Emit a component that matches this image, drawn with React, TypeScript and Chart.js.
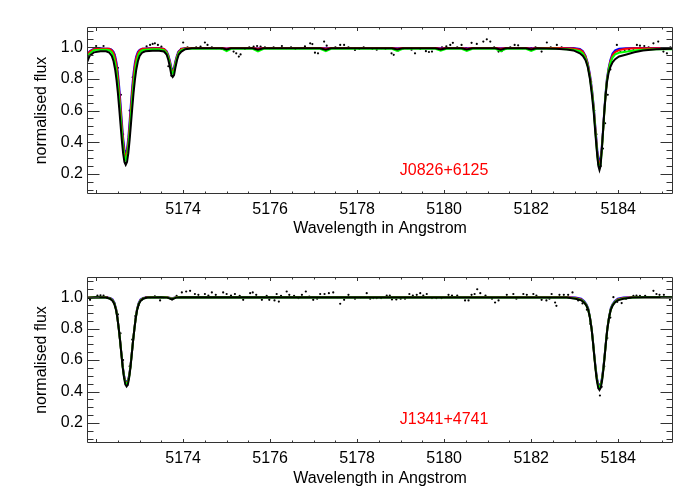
import React, { useEffect, useRef } from "react";
import { Chart, registerables } from "chart.js";

Chart.register(...registerables);

// ---- axis settings ----
const xMin = 5171.79;
const xMax = 5185.26;
const yMin = 0.073;
const yMax = 1.128;
const xTickValues = [5174, 5176, 5178, 5180, 5182, 5184];
const yTickValues = [0.2, 0.4, 0.6, 0.8, 1.0];
const xTitle = "Wavelength in Angstrom";
const yTitle = "normalised flux";

// ---- panel 1 : J0826+6125 ----
const p1Name = "J0826+6125";
const p1Wave = [
  5171.79, 5171.85, 5171.95, 5172.10, 5172.23, 5172.30, 5172.36, 5172.40, 5172.44, 5172.47,
  5172.50, 5172.53, 5172.56, 5172.59, 5172.62, 5172.65, 5172.68, 5172.71, 5172.74, 5172.77,
  5172.80, 5172.83, 5172.86, 5172.89, 5172.92, 5172.96, 5173.00, 5173.06, 5173.13, 5173.30,
  5173.45, 5173.56, 5173.62, 5173.66, 5173.70, 5173.73, 5173.76, 5173.79, 5173.82, 5173.86,
  5173.90, 5173.96, 5174.05, 5174.20, 5174.90, 5175.00, 5175.10, 5175.60, 5175.72, 5175.85,
  5177.15, 5177.28, 5177.40, 5178.80, 5178.92, 5179.05, 5179.80, 5179.92, 5180.05, 5180.40,
  5180.52, 5180.65, 5181.18, 5181.30, 5181.42, 5181.88, 5182.00, 5182.12, 5182.57, 5182.82,
  5182.97, 5183.12, 5183.19, 5183.25, 5183.30, 5183.35, 5183.40, 5183.44, 5183.48, 5183.52,
  5183.545, 5183.57, 5183.595, 5183.62, 5183.65, 5183.68, 5183.71, 5183.74, 5183.78, 5183.82,
  5183.87, 5183.93, 5184.02, 5184.17, 5184.37, 5184.57, 5184.87, 5185.26,
];
const p1Black = [
  0.905, 0.945, 0.968, 0.975, 0.975, 0.967, 0.945, 0.912, 0.854, 0.791,
  0.711, 0.616, 0.514, 0.414, 0.331, 0.275, 0.257, 0.275, 0.331, 0.414,
  0.514, 0.616, 0.711, 0.791, 0.854, 0.912, 0.945, 0.967, 0.975, 0.978,
  0.978, 0.973, 0.954, 0.92, 0.869, 0.824, 0.812, 0.824, 0.869, 0.92,
  0.954, 0.973, 0.988, 0.993, 0.993, 0.986, 0.993, 0.993, 0.984, 0.993,
  0.993, 0.985, 0.993, 0.993, 0.986, 0.993, 0.993, 0.986, 0.993, 0.993,
  0.986, 0.993, 0.993, 0.985, 0.993, 0.993, 0.986, 0.993, 0.99, 0.986,
  0.98, 0.962, 0.945, 0.918, 0.875, 0.80, 0.69, 0.58, 0.44, 0.31,
  0.25, 0.225, 0.25, 0.34, 0.46, 0.59, 0.69, 0.775, 0.84, 0.875,
  0.905, 0.925, 0.942, 0.953, 0.968, 0.98, 0.987, 0.99,
];
const p1Blue = [
  0.95, 0.975, 0.99, 0.993, 0.99, 0.99, 0.984, 0.971, 0.941, 0.901,
  0.838, 0.752, 0.647, 0.533, 0.429, 0.356, 0.33, 0.356, 0.429, 0.533,
  0.647, 0.752, 0.838, 0.901, 0.941, 0.971, 0.984, 0.99, 0.992, 0.995,
  0.995, 0.99, 0.975, 0.95, 0.91, 0.87, 0.857, 0.87, 0.91, 0.95,
  0.975, 0.99, 0.995, 0.996, 0.996, 0.993, 0.996, 0.996, 0.992, 0.996,
  0.996, 0.993, 0.996, 0.996, 0.993, 0.996, 0.996, 0.993, 0.996, 0.996,
  0.993, 0.996, 0.996, 0.993, 0.996, 0.996, 0.993, 0.996, 0.996, 0.995,
  0.995, 0.99, 0.975, 0.945, 0.90, 0.83, 0.73, 0.62, 0.48, 0.35,
  0.30, 0.288, 0.30, 0.36, 0.47, 0.60, 0.71, 0.80, 0.87, 0.92,
  0.96, 0.98, 0.99, 0.993, 0.995, 0.995, 0.995, 0.995,
];
const p1Red = [
  0.945, 0.972, 0.988, 0.99, 0.99, 0.99, 0.98, 0.963, 0.927, 0.880,
  0.812, 0.721, 0.615, 0.503, 0.404, 0.335, 0.31, 0.335, 0.404, 0.503,
  0.615, 0.721, 0.812, 0.880, 0.927, 0.963, 0.98, 0.99, 0.99, 0.993,
  0.993, 0.99, 0.972, 0.945, 0.90, 0.86, 0.846, 0.86, 0.90, 0.945,
  0.972, 0.99, 0.994, 0.995, 0.995, 0.99, 0.995, 0.995, 0.99, 0.995,
  0.995, 0.99, 0.995, 0.995, 0.99, 0.995, 0.995, 0.99, 0.995, 0.995,
  0.99, 0.995, 0.995, 0.99, 0.995, 0.995, 0.99, 0.995, 0.995, 0.993,
  0.992, 0.985, 0.97, 0.94, 0.895, 0.82, 0.72, 0.61, 0.47, 0.33,
  0.28, 0.267, 0.28, 0.345, 0.46, 0.59, 0.70, 0.79, 0.86, 0.91,
  0.95, 0.97, 0.982, 0.99, 0.993, 0.993, 0.993, 0.993,
];
const p1Green = [
  0.93, 0.96, 0.982, 0.985, 0.984, 0.981, 0.968, 0.943, 0.897, 0.842,
  0.768, 0.675, 0.571, 0.465, 0.374, 0.312, 0.29, 0.312, 0.374, 0.465,
  0.571, 0.675, 0.768, 0.842, 0.897, 0.943, 0.968, 0.981, 0.985, 0.988,
  0.988, 0.982, 0.965, 0.935, 0.89, 0.85, 0.836, 0.85, 0.89, 0.935,
  0.965, 0.982, 0.99, 0.99, 0.99, 0.976, 0.99, 0.99, 0.974, 0.99,
  0.99, 0.976, 0.99, 0.99, 0.977, 0.99, 0.99, 0.978, 0.99, 0.99,
  0.977, 0.99, 0.99, 0.975, 0.99, 0.99, 0.977, 0.99, 0.99, 0.988,
  0.985, 0.975, 0.96, 0.93, 0.885, 0.81, 0.71, 0.60, 0.455, 0.32,
  0.26, 0.246, 0.26, 0.335, 0.455, 0.585, 0.70, 0.785, 0.855, 0.90,
  0.935, 0.955, 0.965, 0.972, 0.98, 0.985, 0.987, 0.987,
];
const p1Obs: [number, number][] = [
  [5171.86, 0.96], [5171.93, 0.983], [5172.00, 1.008], [5172.08, 0.995], [5172.17, 1.008],
  [5172.25, 0.99], [5172.34, 0.985], [5172.42, 0.955], [5172.50, 0.87], [5172.57, 0.70],
  [5172.62, 0.45], [5172.67, 0.27], [5172.72, 0.33], [5172.77, 0.60], [5172.84, 0.81],
  [5172.92, 0.92], [5173.00, 0.965], [5173.08, 0.98], [5173.16, 1.005], [5173.24, 1.015],
  [5173.30, 1.021], [5173.35, 1.025], [5173.42, 1.015], [5173.50, 1.004], [5173.58, 0.97],
  [5173.66, 0.88], [5173.73, 0.82], [5173.80, 0.86], [5173.88, 0.966], [5173.95, 0.99],
  [5174.00, 1.03], [5174.10, 1.0], [5174.20, 0.995], [5174.30, 1.0], [5174.40, 1.004],
  [5174.50, 1.03], [5174.56, 1.015], [5174.66, 1.0], [5174.76, 0.994], [5174.88, 0.99],
  [5174.98, 0.983], [5175.08, 0.99], [5175.16, 0.973], [5175.22, 0.962], [5175.28, 0.941],
  [5175.32, 0.955], [5175.42, 0.99], [5175.52, 1.0], [5175.62, 1.004], [5175.70, 1.008],
  [5175.78, 1.004], [5175.88, 1.0], [5175.98, 0.994], [5176.08, 1.0], [5176.18, 0.995],
  [5176.27, 1.008], [5176.38, 0.995], [5176.48, 1.0], [5176.58, 0.99], [5176.68, 0.995],
  [5176.80, 1.005], [5176.92, 1.025], [5176.97, 1.02], [5177.03, 0.966], [5177.10, 0.962],
  [5177.24, 1.036], [5177.30, 1.01], [5177.40, 0.995], [5177.50, 1.0], [5177.61, 1.015],
  [5177.70, 1.015], [5177.80, 1.0], [5177.95, 0.983], [5178.05, 0.99], [5178.15, 1.0],
  [5178.25, 0.995], [5178.35, 0.99], [5178.45, 0.985], [5178.55, 0.995], [5178.65, 0.99],
  [5178.79, 0.962], [5178.84, 0.952], [5178.95, 0.98], [5179.05, 0.99], [5179.15, 0.995],
  [5179.25, 0.985], [5179.33, 0.962], [5179.45, 0.99], [5179.58, 0.975], [5179.65, 0.97],
  [5179.72, 0.973], [5179.85, 0.995], [5179.95, 1.0], [5180.05, 1.005], [5180.14, 1.015],
  [5180.20, 1.028], [5180.30, 1.0], [5180.40, 1.015], [5180.50, 0.995], [5180.63, 1.028],
  [5180.75, 1.021], [5180.90, 1.036], [5180.98, 1.05], [5181.06, 1.036], [5181.15, 1.0],
  [5181.25, 0.973], [5181.32, 0.975], [5181.42, 0.99], [5181.52, 1.0], [5181.62, 1.015],
  [5181.70, 1.012], [5181.80, 0.995], [5181.90, 0.99], [5182.00, 0.995], [5182.10, 1.0],
  [5182.24, 0.973], [5182.36, 1.03], [5182.45, 1.0], [5182.59, 1.015], [5182.70, 1.0],
  [5182.80, 0.995], [5182.90, 0.99], [5183.00, 0.985], [5183.10, 0.975], [5183.20, 0.95],
  [5183.30, 0.89], [5183.38, 0.78], [5183.45, 0.60], [5183.50, 0.45], [5183.55, 0.26],
  [5183.60, 0.25], [5183.65, 0.36], [5183.70, 0.52], [5183.76, 0.70], [5183.82, 0.86],
  [5183.90, 0.96], [5183.97, 1.015], [5184.05, 0.97], [5184.15, 0.975], [5184.25, 0.985],
  [5184.35, 0.99], [5184.43, 1.015], [5184.50, 1.01], [5184.60, 1.008], [5184.70, 1.0],
  [5184.81, 1.025], [5184.92, 1.036], [5185.04, 0.973], [5185.12, 0.962], [5185.20, 1.0],
];

// ---- panel 2 : J1341+4741 ----
const p2Name = "J1341+4741";
const p2Wave = [
  5171.79, 5172.00, 5172.22, 5172.32, 5172.38, 5172.42, 5172.46, 5172.49, 5172.52, 5172.55,
  5172.58, 5172.61, 5172.64, 5172.67, 5172.70, 5172.73, 5172.76, 5172.79, 5172.82, 5172.85,
  5172.88, 5172.91, 5172.94, 5172.98, 5173.02, 5173.08, 5173.18, 5173.50, 5173.64, 5173.74,
  5173.84, 5173.95, 5182.82, 5183.02, 5183.15, 5183.22, 5183.27, 5183.31, 5183.35, 5183.39,
  5183.42, 5183.45, 5183.48, 5183.51, 5183.54, 5183.57, 5183.60, 5183.63, 5183.66, 5183.69,
  5183.72, 5183.75, 5183.79, 5183.83, 5183.87, 5183.92, 5183.99, 5184.12, 5184.32, 5184.60,
  5185.26,
];
const p2Black = [
  0.995, 1.0, 0.997, 0.99, 0.975, 0.955, 0.915, 0.865, 0.80, 0.725,
  0.64, 0.555, 0.49, 0.445, 0.432, 0.445, 0.49, 0.555, 0.64, 0.725,
  0.80, 0.865, 0.915, 0.955, 0.975, 0.99, 0.997, 1.0, 0.997, 0.985,
  0.997, 1.0, 0.997, 0.99, 0.98, 0.965, 0.945, 0.92, 0.87, 0.795,
  0.715, 0.625, 0.54, 0.47, 0.425, 0.41, 0.425, 0.47, 0.54, 0.625,
  0.715, 0.795, 0.87, 0.92, 0.945, 0.965, 0.98, 0.99, 0.997, 1.0,
  1.0,
];
const p2Blue = [
  0.998, 1.0, 1.0, 0.995, 0.985, 0.965, 0.925, 0.87, 0.80, 0.725,
  0.645, 0.565, 0.505, 0.47, 0.46, 0.47, 0.505, 0.565, 0.645, 0.725,
  0.80, 0.87, 0.925, 0.965, 0.985, 0.995, 1.0, 1.0, 1.0, 0.993,
  1.0, 1.0, 1.0, 0.997, 0.99, 0.975, 0.955, 0.93, 0.875, 0.80,
  0.72, 0.635, 0.555, 0.49, 0.45, 0.44, 0.45, 0.49, 0.555, 0.635,
  0.72, 0.80, 0.875, 0.93, 0.955, 0.975, 0.99, 0.997, 1.0, 1.0,
  1.0,
];
const p2Red = [
  0.997, 1.0, 0.999, 0.993, 0.981, 0.961, 0.921, 0.868, 0.80, 0.725,
  0.643, 0.561, 0.50, 0.464, 0.455, 0.464, 0.50, 0.561, 0.643, 0.725,
  0.80, 0.868, 0.921, 0.961, 0.981, 0.993, 0.999, 1.0, 0.999, 0.99,
  0.999, 1.0, 0.999, 0.994, 0.986, 0.97, 0.95, 0.925, 0.873, 0.798,
  0.718, 0.63, 0.548, 0.482, 0.442, 0.435, 0.442, 0.482, 0.548, 0.63,
  0.718, 0.798, 0.873, 0.925, 0.95, 0.97, 0.986, 0.994, 0.999, 1.0,
  1.0,
];
const p2Green = [
  0.996, 1.0, 0.998, 0.992, 0.978, 0.958, 0.918, 0.866, 0.80, 0.725,
  0.642, 0.558, 0.496, 0.458, 0.45, 0.458, 0.496, 0.558, 0.642, 0.725,
  0.80, 0.866, 0.918, 0.958, 0.978, 0.992, 0.998, 1.0, 0.998, 0.988,
  0.998, 1.0, 0.998, 0.992, 0.983, 0.968, 0.948, 0.922, 0.872, 0.797,
  0.717, 0.628, 0.545, 0.478, 0.437, 0.43, 0.437, 0.478, 0.545, 0.628,
  0.717, 0.797, 0.872, 0.922, 0.948, 0.968, 0.983, 0.992, 0.998, 1.0,
  1.0,
];
const p2Obs: [number, number][] = [
  [5171.86, 0.983], [5171.95, 1.0], [5172.03, 1.01], [5172.10, 1.012], [5172.17, 1.01],
  [5172.25, 1.0], [5172.33, 0.99], [5172.42, 0.96], [5172.50, 0.89], [5172.56, 0.77],
  [5172.62, 0.60], [5172.67, 0.46], [5172.72, 0.44], [5172.77, 0.56], [5172.83, 0.73],
  [5172.90, 0.88], [5172.98, 0.95], [5173.06, 0.985], [5173.15, 1.0], [5173.25, 1.0],
  [5173.35, 1.005], [5173.47, 0.979], [5173.55, 1.0], [5173.65, 0.995], [5173.75, 0.985],
  [5173.85, 1.008], [5173.97, 1.03], [5174.07, 1.036], [5174.16, 1.04], [5174.27, 1.02],
  [5174.35, 1.015], [5174.50, 1.02], [5174.58, 1.01], [5174.66, 1.03], [5174.75, 1.015],
  [5174.92, 1.03], [5175.00, 1.02], [5175.10, 1.01], [5175.19, 1.02], [5175.30, 1.008],
  [5175.38, 0.983], [5175.54, 1.025], [5175.60, 1.03], [5175.68, 1.015], [5175.81, 0.983],
  [5175.92, 1.008], [5175.98, 0.983], [5176.10, 0.979], [5176.15, 1.02], [5176.20, 0.972],
  [5176.25, 1.008], [5176.38, 1.036], [5176.44, 1.015], [5176.55, 1.008], [5176.65, 0.994],
  [5176.73, 1.015], [5176.82, 1.036], [5176.90, 1.004], [5176.99, 0.983], [5177.08, 0.99],
  [5177.15, 1.02], [5177.25, 1.02], [5177.35, 1.025], [5177.45, 1.03], [5177.54, 1.0],
  [5177.61, 0.958], [5177.70, 0.983], [5177.80, 1.015], [5177.95, 0.99], [5178.08, 1.0],
  [5178.22, 1.025], [5178.30, 0.99], [5178.37, 0.994], [5178.45, 0.994], [5178.55, 0.994],
  [5178.68, 1.01], [5178.75, 1.01], [5178.80, 0.985], [5178.90, 0.985], [5179.00, 0.99],
  [5179.10, 0.99], [5179.20, 1.02], [5179.28, 1.01], [5179.37, 1.015], [5179.45, 1.025],
  [5179.52, 1.01], [5179.60, 1.02], [5179.72, 0.994], [5179.82, 0.994], [5179.94, 0.994],
  [5180.10, 1.015], [5180.18, 1.01], [5180.30, 1.01], [5180.48, 0.979], [5180.56, 0.979],
  [5180.63, 1.015], [5180.70, 1.02], [5180.76, 1.05], [5180.83, 1.025], [5180.95, 1.01],
  [5181.10, 0.99], [5181.17, 0.966], [5181.25, 0.979], [5181.44, 1.015], [5181.59, 1.02],
  [5181.66, 0.99], [5181.82, 1.02], [5181.90, 1.015], [5182.05, 1.02], [5182.12, 1.01],
  [5182.24, 0.983], [5182.35, 0.979], [5182.42, 0.99], [5182.47, 1.02], [5182.55, 0.966],
  [5182.58, 0.945], [5182.65, 1.015], [5182.75, 1.015], [5182.85, 1.015], [5182.95, 1.03],
  [5183.08, 0.979], [5183.18, 0.96], [5183.28, 0.92], [5183.36, 0.83], [5183.43, 0.68],
  [5183.50, 0.50], [5183.55, 0.42], [5183.58, 0.375], [5183.62, 0.43], [5183.68, 0.56],
  [5183.75, 0.74], [5183.82, 0.87], [5183.89, 1.0], [5183.98, 0.97], [5184.08, 0.962],
  [5184.18, 0.99], [5184.28, 0.995], [5184.35, 1.008], [5184.42, 1.01], [5184.50, 1.008],
  [5184.62, 1.008], [5184.81, 1.04], [5184.88, 1.02], [5184.95, 1.015], [5185.05, 1.015],
  [5185.12, 1.0], [5185.19, 0.983],
];

// position of the object label, in data units
const labelAt: [number, number] = [5178.98, 0.195];

const FONT = '"Liberation Sans", Arial, Helvetica, sans-serif';

type PanelProps = {
  name: string;
  wave: number[];
  black: number[];
  blue: number[];
  red: number[];
  green: number[];
  obs: [number, number][];
  top: number;
  plotBottom: number;
};

function toXY(wave: number[], flux: number[]) {
  return wave.map((w, i) => ({ x: w, y: flux[i] }));
}

function Panel(props: PanelProps) {
  const ref = useRef<HTMLCanvasElement | null>(null);
  useEffect(() => {
    if (!ref.current) return;
    const framePlugin = {
      id: "idlFrame",
      afterDatasetsDraw(chart: any) {
        const { ctx, chartArea: a, scales } = chart;
        const xs = scales.x;
        const ys = scales.y;
        ctx.save();
        ctx.strokeStyle = "#333333";
        ctx.lineWidth = 1;
        const L = Math.round(a.left) + 0.5;
        const R = Math.round(a.right) - 0.5;
        const T = Math.round(a.top) + 0.5;
        const B = Math.round(a.bottom) - 0.5;
        ctx.beginPath();
        ctx.rect(L, T, R - L, B - T);
        ctx.stroke();
        ctx.beginPath();
        // x ticks, bottom and top
        for (let k = 0; k <= 40; k++) {
          const v = 5170 + k * 0.5;
          if (v <= xMin || v >= xMax) continue;
          const major = Math.abs(v / 2 - Math.round(v / 2)) < 1e-6;
          const len = major ? 3.5 : 2;
          const px = Math.round(xs.getPixelForValue(v)) + 0.5;
          ctx.moveTo(px, B);
          ctx.lineTo(px, B - len);
          ctx.moveTo(px, T);
          ctx.lineTo(px, T + len);
        }
        // y ticks, left and right
        for (let k = 0; k <= 30; k++) {
          const v = k * 0.05;
          if (v <= yMin || v >= yMax) continue;
          const major = k % 4 === 0;
          const len = major ? 12 : 6;
          const py = Math.round(ys.getPixelForValue(v)) + 0.5;
          ctx.moveTo(L, py);
          ctx.lineTo(L + len, py);
          ctx.moveTo(R, py);
          ctx.lineTo(R - len, py);
        }
        ctx.stroke();
        ctx.fillStyle = "#ff0000";
        ctx.font = "16px " + FONT;
        ctx.textAlign = "left";
        ctx.textBaseline = "alphabetic";
        ctx.fillText(
          props.name,
          xs.getPixelForValue(labelAt[0]),
          ys.getPixelForValue(labelAt[1])
        );
        ctx.restore();
      },
    };

    const lineDs = (label: string, flux: number[], color: string, width: number, order: number) => ({
      label,
      data: toXY(props.wave, flux),
      showLine: true,
      borderColor: color,
      backgroundColor: color,
      borderWidth: width,
      pointRadius: 0,
      tension: 0,
      order,
    });

    const chart = new Chart(ref.current, {
      type: "scatter",
      data: {
        datasets: [
          {
            label: "observed",
            data: props.obs.map(([x, y]) => ({ x, y })),
            showLine: false,
            pointRadius: 1.1,
            pointBorderWidth: 0,
            pointBackgroundColor: "#000000",
            backgroundColor: "#000000",
            borderColor: "#000000",
            order: 5,
          } as any,
          lineDs("model 1", props.blue, "#0000ff", 2, 4),
          lineDs("model 2", props.red, "#ff0000", 2, 3),
          lineDs("model 3", props.green, "#00ff00", 2, 2),
          lineDs("model 4", props.black, "#000000", 2, 1),
        ],
      },
      options: {
        animation: false,
        responsive: false,
        devicePixelRatio: 1,
        layout: { padding: { top: 27, right: 27, left: 0, bottom: 0 } },
        plugins: { legend: { display: false }, tooltip: { enabled: false } },
        scales: {
          x: {
            type: "linear",
            min: xMin,
            max: xMax,
            grid: { display: false, drawTicks: false },
            border: { display: false },
            afterBuildTicks: (s: any) => {
              s.ticks = xTickValues.map((v) => ({ value: v }));
            },
            afterFit: (s: any) => {
              s.height = 250 - props.plotBottom;
            },
            ticks: {
              padding: 6,
              color: "#000000",
              font: { family: FONT, size: 16 },
              maxRotation: 0,
              callback: (v: any) => String(v),
            },
            title: {
              display: true,
              text: xTitle,
              color: "#000000",
              font: { family: FONT, size: 16 },
              padding: { top: 0, bottom: 12 },
            },
          },
          y: {
            type: "linear",
            min: yMin,
            max: yMax,
            grid: { display: false, drawTicks: false },
            border: { display: false },
            afterBuildTicks: (s: any) => {
              s.ticks = yTickValues.map((v) => ({ value: v }));
            },
            afterFit: (s: any) => {
              s.width = 87;
            },
            ticks: {
              padding: 4,
              color: "#000000",
              font: { family: FONT, size: 16 },
              callback: (v: any) => Number(v).toFixed(1),
            },
            title: {
              display: true,
              text: yTitle,
              color: "#000000",
              font: { family: FONT, size: 16 },
              padding: { top: 32, bottom: 0 },
            },
          },
        },
      } as any,
      plugins: [framePlugin],
    });
    return () => chart.destroy();
  }, []);

  return (
    <canvas
      ref={ref}
      width={700}
      height={250}
      style={{ position: "absolute", left: 0, top: props.top, width: 700, height: 250, display: "block" }}
    />
  );
}

export default function App() {
  return (
    <div style={{ position: "absolute", left: 0, top: 0, width: 700, height: 500, background: "#ffffff" }}>
      <Panel
        name={p1Name}
        wave={p1Wave}
        black={p1Black}
        blue={p1Blue}
        red={p1Red}
        green={p1Green}
        obs={p1Obs}
        top={0}
        plotBottom={194}
      />
      <Panel
        name={p2Name}
        wave={p2Wave}
        black={p2Black}
        blue={p2Blue}
        red={p2Red}
        green={p2Green}
        obs={p2Obs}
        top={250}
        plotBottom={193}
      />
    </div>
  );
}
